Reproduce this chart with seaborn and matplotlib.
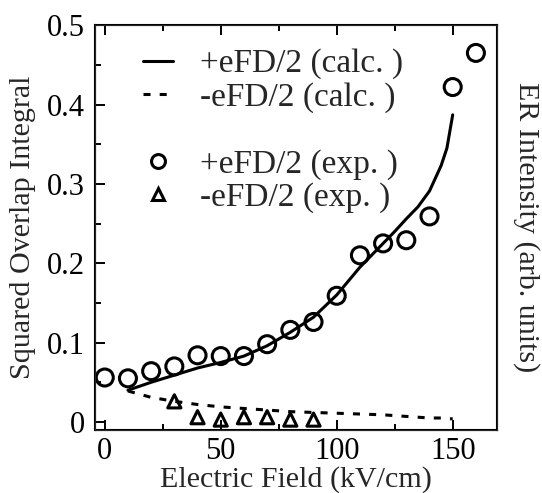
import numpy as np
import pandas as pd
import matplotlib
matplotlib.use("Agg")
import matplotlib.pyplot as plt
import seaborn as sns
from matplotlib.lines import Line2D
from matplotlib.ticker import MultipleLocator

# ============================================
# DATA
# ============================================

calc_field = [10, 20, 30, 40, 50, 60, 70, 80, 90, 100, 110, 120, 125, 130,
              135, 140, 145, 147.5, 150]
calc_plus = [0.040, 0.050, 0.059, 0.068, 0.075, 0.083, 0.096, 0.113, 0.132,
             0.160, 0.195, 0.225, 0.240, 0.256, 0.271, 0.291, 0.323, 0.345, 0.387]
calc_minus = [0.039, 0.031, 0.026, 0.022, 0.019, 0.017, 0.015, 0.013, 0.012,
              0.011, 0.010, 0.009, 0.008, 0.007, 0.006, 0.005, 0.005, 0.004, 0.004]

exp_plus_field = [0, 10, 20, 30, 40, 50, 60, 70, 80, 90, 100, 110, 120, 130, 140, 150, 160]
exp_plus = [0.056, 0.055, 0.064, 0.070, 0.084, 0.083, 0.083, 0.098, 0.116,
            0.126, 0.159, 0.210, 0.225, 0.229, 0.259, 0.422, 0.465]

exp_minus_field = [30, 40, 50, 60, 70, 80, 90]
exp_minus = [0.026, 0.006, 0.003, 0.006, 0.006, 0.003, 0.003]

labels = ["+eFD/2 (calc. )", "-eFD/2 (calc. )", "+eFD/2 (exp. )", "-eFD/2 (exp. )"]

# ============================================
# STYLE
# ============================================

sns.set_style("ticks")
plt.rcParams["font.family"] = ["Liberation Serif", "DejaVu Serif"]

fig = plt.figure(figsize=(5.42, 4.93), dpi=100)
ax = fig.add_axes([0.1753, 0.128, 0.7417, 0.821])

dash = (0, (2.3, 3.0))

# ============================================
# LINES AND MARKERS
# ============================================

df_calc = pd.DataFrame({"F": calc_field, "plus": calc_plus, "minus": calc_minus})

sns.lineplot(data=df_calc, x="F", y="plus", ax=ax, color="black", lw=2.2)
sns.lineplot(data=df_calc, x="F", y="minus", ax=ax, color="black", lw=2.2,
             linestyle=dash)

sns.scatterplot(x=exp_plus_field, y=exp_plus, ax=ax, marker="o", s=150,
                facecolor="none", edgecolor="black", linewidth=2.2, zorder=3)
sns.scatterplot(x=exp_minus_field, y=exp_minus, ax=ax, marker="^", s=90,
                facecolor="none", edgecolor="black", linewidth=2.2, zorder=3)

# ============================================
# AXES
# ============================================

ax.set_xlim(-4.2, 169.1)
ax.set_ylim(-0.01, 0.5)
ax.xaxis.set_major_locator(MultipleLocator(50))
ax.xaxis.set_minor_locator(MultipleLocator(25))
ax.yaxis.set_minor_locator(MultipleLocator(0.05))
ax.set_yticks([0, 0.1, 0.2, 0.3, 0.4, 0.5])
ax.set_yticklabels(["0", "0.1", "0.2", "0.3", "0.4", "0.5"])

ax.tick_params(which="both", direction="in", top=True, right=True,
               labelsize=22, width=1.4, colors="black")
ax.tick_params(which="major", length=7)
ax.tick_params(which="minor", length=4.5)
ax.tick_params(axis="x", pad=5)
ax.tick_params(axis="y", pad=7)
for s in ax.spines.values():
    s.set_linewidth(1.5)
    s.set_color("black")

ax.set_xlabel("Electric Field (kV/cm)", fontsize=21.6, labelpad=0)
ax.set_ylabel("Squared Overlap Integral", fontsize=21.6, labelpad=8)

ax2 = ax.twinx()
ax2.set_yticks([])
ax2.set_ylabel("ER Intensity (arb. units)", fontsize=21.6, rotation=270,
               labelpad=31)

# ============================================
# LEGEND
# ============================================

handles = [
    Line2D([], [], color="black", lw=2.2),
    Line2D([], [], color="black", lw=2.2, linestyle=dash),
    Line2D([], [], linestyle="none"),
    Line2D([], [], marker="o", linestyle="none", markersize=10,
           markerfacecolor="none", markeredgecolor="black", markeredgewidth=2.2),
    Line2D([], [], marker="^", linestyle="none", markersize=9,
           markerfacecolor="none", markeredgecolor="black", markeredgewidth=2.2),
]
leg_labels = [labels[0], labels[1], " ", labels[2], labels[3]]
ax.legend(handles, leg_labels, loc="upper left", bbox_to_anchor=(0.119, 0.942),
          frameon=False, fontsize=24, handlelength=0.9, handletextpad=0.8,
          labelspacing=0.08, borderpad=0, borderaxespad=0)

fig.savefig("out.png", dpi=100)
